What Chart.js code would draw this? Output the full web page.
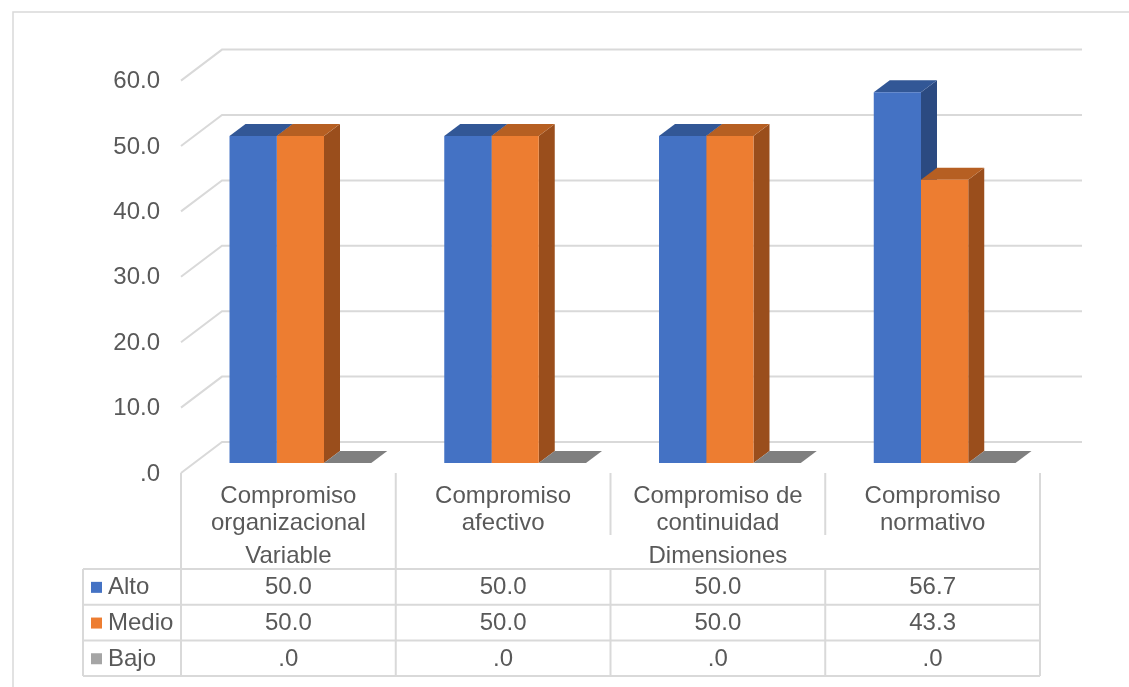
<!DOCTYPE html>
<html>
<head>
<meta charset="utf-8">
<script src="https://cdn.jsdelivr.net/npm/chart.js@4/dist/chart.umd.min.js"></script>
<style>
  html, body { margin: 0; padding: 0; background: #ffffff; }
  #c { display: block; }
</style>
</head>
<body>
<canvas id="c" width="1129" height="687"></canvas>
<script>
// ---- Data ----
const categories = [
  ['Compromiso', 'organizacional'],
  ['Compromiso', 'afectivo'],
  ['Compromiso de', 'continuidad'],
  ['Compromiso', 'normativo']
];
const groupLabels = ['Variable', 'Dimensiones'];
const groupSpans = [1, 3];
const seriesNames = ['Alto', 'Medio', 'Bajo'];
const altoValues = [50.0, 50.0, 50.0, 56.7];
const medioValues = [50.0, 50.0, 50.0, 43.3];
const bajoValues = [0.0, 0.0, 0.0, 0.0];
const yTicks = [0, 10, 20, 30, 40, 50, 60];

// ---- Styles ----
const frontColors = ['#4472C4', '#ED7D31', '#A5A5A5'];
const topColors = ['#325796', '#b65f22', '#7f7f7f'];
const sideColors = ['#2b4a81', '#9a4e1c', '#6f6f6f'];
const gridColor = '#d9d9d9';
const textColor = '#595959';
const FONT = '24px "Liberation Sans", Arial, sans-serif';

function fmt(v) { return v === 0 ? '.0' : v.toFixed(1); }

const BAR_DX = 16, BAR_DY = -12;      // bar depth
const FRONT_DX = -12, FRONT_DY = 10;  // bar plane -> front plane
const BACK_DX = 29, BACK_DY = -21;    // bar plane -> back wall

const threeD = {
  id: 'threeD',
  beforeDatasetsDraw(chart) {
    const ctx = chart.ctx;
    const y = chart.scales.y;
    const area = chart.chartArea;
    ctx.save();
    // outer border (partially cropped)
    ctx.strokeStyle = gridColor;
    ctx.lineWidth = 1.5;
    ctx.beginPath();
    ctx.moveTo(13, 700); ctx.lineTo(13, 12); ctx.lineTo(1140, 12);
    ctx.stroke();

    // gridlines: left wall diagonal + back wall horizontal
    ctx.lineWidth = 2;
    ctx.strokeStyle = gridColor;
    yTicks.forEach(t => {
      const py = y.getPixelForValue(t);
      ctx.beginPath();
      ctx.moveTo(area.left + FRONT_DX, py + FRONT_DY);
      ctx.lineTo(area.left + BACK_DX, py + BACK_DY);
      ctx.lineTo(area.right + BACK_DX + 1, py + BACK_DY);
      ctx.stroke();
    });

    // y tick labels
    ctx.fillStyle = textColor;
    ctx.font = FONT;
    ctx.textAlign = 'right';
    ctx.textBaseline = 'middle';
    yTicks.forEach(t => {
      const py = y.getPixelForValue(t);
      ctx.fillText(fmt(t), area.left + FRONT_DX - 21, py + FRONT_DY + 1);
    });

    // bar depth faces (sides and tops)
    chart.data.datasets.forEach((ds, di) => {
      const meta = chart.getDatasetMeta(di);
      meta.data.forEach(bar => {
        const p = bar.getProps(['x', 'y', 'base', 'width'], true);
        const x1 = p.x - p.width / 2, x2 = p.x + p.width / 2;
        const top = Math.min(p.y, p.base), bot = Math.max(p.y, p.base);
        // side
        ctx.fillStyle = sideColors[di];
        ctx.beginPath();
        ctx.moveTo(x2, top); ctx.lineTo(x2 + BAR_DX, top + BAR_DY);
        ctx.lineTo(x2 + BAR_DX, bot + BAR_DY); ctx.lineTo(x2, bot);
        ctx.closePath(); ctx.fill();
        // top
        ctx.fillStyle = topColors[di];
        ctx.beginPath();
        ctx.moveTo(x1, top); ctx.lineTo(x2, top);
        ctx.lineTo(x2 + BAR_DX, top + BAR_DY); ctx.lineTo(x1 + BAR_DX, top + BAR_DY);
        ctx.closePath(); ctx.fill();
      });
    });
    ctx.restore();
  },
  afterDatasetsDraw(chart) {
    const ctx = chart.ctx;
    const xs = chart.scales.x;
    const area = chart.chartArea;
    const n = categories.length;
    const catW = (area.right - area.left) / n;
    const colLeft = i => xs.getPixelForValue(i) - catW / 2 + FRONT_DX;
    const tableLeft = colLeft(0);
    const tableRight = colLeft(n - 1) + catW;
    const rowLabelLeft = 83;
    const tTop = y0 = chart.scales.y.getPixelForValue(0) + FRONT_DY;
    const groupTop = tTop + 62;
    const rowTop = 569;
    const rowH = 35.7;
    const tBottom = rowTop + rowH * 3;

    ctx.save();
    ctx.strokeStyle = gridColor;
    ctx.lineWidth = 2;
    ctx.beginPath();
    // left and right edges of the category area
    ctx.moveTo(tableLeft, tTop); ctx.lineTo(tableLeft, tBottom);
    ctx.moveTo(tableRight, tTop); ctx.lineTo(tableRight, tBottom);
    // dividers between categories
    let acc = 0;
    const groupEnds = groupSpans.map(s => (acc += s));
    for (let i = 1; i < n; i++) {
      const xx = colLeft(i);
      const isGroupEdge = groupEnds.includes(i);
      ctx.moveTo(xx, isGroupEdge ? tTop : tTop);
      ctx.lineTo(xx, isGroupEdge ? tBottom : groupTop);
      if (!isGroupEdge) { ctx.moveTo(xx, rowTop); ctx.lineTo(xx, tBottom); }
    }
    // row lines
    for (let r = 0; r <= 3; r++) {
      const yy = rowTop + rowH * r;
      ctx.moveTo(rowLabelLeft, yy); ctx.lineTo(tableRight, yy);
    }
    ctx.moveTo(rowLabelLeft, rowTop); ctx.lineTo(rowLabelLeft, tBottom);
    ctx.stroke();

    ctx.fillStyle = textColor;
    ctx.font = FONT;
    ctx.textAlign = 'center';
    ctx.textBaseline = 'middle';
    // category labels
    categories.forEach((lines, i) => {
      const cx = colLeft(i) + catW / 2;
      lines.forEach((ln, k) => ctx.fillText(ln, cx, tTop + 23 + k * 27));
    });
    // group labels
    let start = 0;
    groupLabels.forEach((g, gi) => {
      const span = groupSpans[gi];
      const cx = colLeft(start) + (span * catW) / 2;
      ctx.fillText(g, cx, tTop + 83);
      start += span;
    });
    // rows
    const rows = [altoValues, medioValues, bajoValues];
    rows.forEach((vals, r) => {
      const cy = rowTop + rowH * r + rowH / 2 + 1;
      ctx.fillStyle = frontColors[r];
      ctx.fillRect(91, cy - 6, 11, 11);
      ctx.fillStyle = textColor;
      ctx.textAlign = 'left';
      ctx.fillText(seriesNames[r], 108, cy);
      ctx.textAlign = 'center';
      vals.forEach((v, i) => ctx.fillText(fmt(v), colLeft(i) + catW / 2, cy));
    });
    ctx.restore();
  }
};

new Chart(document.getElementById('c'), {
  type: 'bar',
  data: {
    labels: categories.map(c => c.join(' ')),
    datasets: [
      { label: seriesNames[0], data: altoValues, backgroundColor: frontColors[0] },
      { label: seriesNames[1], data: medioValues, backgroundColor: frontColors[1] },
      { label: seriesNames[2], data: bajoValues, backgroundColor: frontColors[2] }
    ]
  },
  options: {
    responsive: false,
    devicePixelRatio: 1,
    animation: false,
    layout: { padding: { left: 193, right: 77, top: 70.6, bottom: 224 } },
    datasets: { bar: { categoryPercentage: 0.66, barPercentage: 1.0, borderWidth: 0 } },
    scales: {
      x: { display: false },
      y: { display: false, min: 0, max: 60 }
    },
    plugins: { legend: { display: false }, tooltip: { enabled: false } }
  },
  plugins: [threeD]
});
</script>
</body>
</html>
